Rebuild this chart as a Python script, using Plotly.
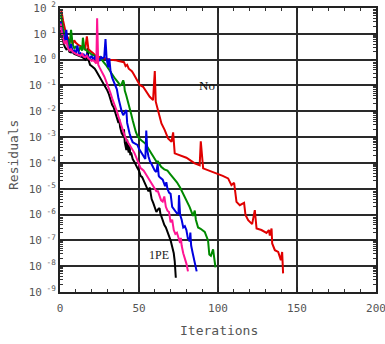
import numpy as np
import plotly.graph_objects as go

# ---- data (x = iteration, *_log = log10(residual)) ----
black_x = [0.5, 1, 2, 3, 4, 5, 6, 7, 8, 9, 10, 11, 12, 13, 14, 15, 16, 17, 17.5, 18, 19, 20, 21, 22, 23, 24,
           25, 26, 27, 28, 29, 30, 31, 32, 33, 34, 35, 36, 37, 37.5, 38, 39, 40, 40.5, 41, 42, 42.5, 43, 43.5,
           44, 44.5, 45, 46, 47, 48, 49, 50, 51, 52, 53, 54, 55, 56, 56.8, 57.5, 58, 59, 60, 61, 62, 63, 63.5,
           64, 65, 66, 67, 68, 69, 70, 71, 72, 72.6, 73, 73.3]
black_log = [1.15, 0.95, 0.7, 0.5, 0.4, 0.45, 0.3, 0.28, 0.3, 0.22, 0.2, 0.18, 0.15, 0.12, 0.1, 0.05, 0.0, 0.1,
             0.45, 0.0, -0.2, -0.25, -0.3, -0.35, -0.45, -0.55, -0.65, -0.75, -0.85, -0.95, -1.05, -1.2, -1.35,
             -1.55, -1.75, -1.85, -2.05, -2.25, -2.45, -2.3, -2.6, -2.85, -2.95, -2.7, -3.2, -3.5, -3.1, -3.45,
             -3.6, -3.3, -3.7, -3.6, -3.85, -3.95, -4.1, -4.2, -4.3, -4.5, -4.55, -4.7, -4.85, -4.95, -5.1, -4.95,
             -5.25, -5.4, -5.55, -5.75, -5.9, -5.8, -5.75, -5.95, -6.05, -6.2, -6.4, -6.5, -6.65, -6.85, -7.0,
             -7.25, -7.5, -7.8, -8.1, -8.45]

pink_x = [0.5, 1, 2, 3, 4, 5, 6, 7, 8, 9, 10, 11, 12, 13, 14, 15, 16, 17, 18, 19, 20, 21, 22, 23, 23.5, 24.2,
          25, 26, 27, 28, 29, 30, 31, 32, 33, 34, 35, 36, 37, 38, 39, 40, 41, 42, 43, 44, 45, 46, 47, 48, 49,
          50, 51, 52, 53, 54, 55, 56, 57, 58, 59, 60, 61, 62, 63, 64, 65, 66, 67, 68, 69, 70, 71, 72, 73, 74,
          75, 76, 76.5, 77, 78, 79, 80, 81]
pink_log = [1.4, 1.1, 0.8, 0.6, 0.75, 0.45, 0.35, 0.4, 0.3, 0.25, 0.22, 0.2, 0.18, 0.15, 0.22, 0.12, 0.1, 0.15,
            0.05, 0.0, -0.05, -0.02, -0.1, -0.15, 1.6, -0.2, -0.3, -0.4, -0.5, -0.65, -0.8, -0.95, -1.1, -1.3,
            -1.5, -1.65, -1.85, -2.0, -2.2, -2.4, -2.6, -2.8, -2.95, -3.1, -3.2, -3.25, -3.35, -3.45, -3.6,
            -3.75, -3.9, -4.1, -4.2, -4.25, -4.3, -4.4, -4.5, -4.6, -4.7, -4.75, -4.85, -5.0, -5.1, -5.1, -5.3,
            -5.45, -5.5, -5.3, -5.7, -5.85, -5.9, -6.3, -6.2, -6.6, -6.75, -6.7, -6.9, -7.1, -6.9, -7.2, -7.5,
            -7.7, -7.9, -8.2]

blue_x = [0.5, 1, 2, 3, 4, 5, 6, 7, 8, 9, 10, 11, 12, 13, 14, 15, 16, 17, 18, 19, 20, 21, 22, 23, 24, 25, 26,
          27, 28, 28.8, 29.5, 30.5, 31.2, 32, 33, 34, 35, 36, 37, 38, 39, 40, 42, 42.5, 43, 44, 45, 46, 47.5,
          49, 50, 51, 52, 53, 54, 54.6, 55.2, 56, 57, 58, 59, 60, 61, 61.8, 62.5, 63, 65, 66.5, 67.3, 68, 69,
          70, 71, 72, 73, 74, 75, 75.3, 76, 77, 78, 79, 80, 81, 81.5, 82, 82.5, 83, 84, 85, 86.5]
blue_log = [1.5, 1.2, 0.9, 0.7, 1.15, 0.5, 0.4, 0.6, 0.3, 0.35, 0.25, 0.55, 0.2, 0.25, 0.15, 0.2, 0.1, 0.2, 0.1,
            0.05, 0.15, 0.0, 0.1, 0.0, 0.05, -0.05, 0.1, 0.05, 0.1, 0.8, 0.05, -0.3, 0.05, -0.45, -0.7, -0.85,
            -1.0, -1.15, -1.5, -1.8, -2.0, -2.15, -1.95, -2.45, -2.6, -2.85, -3.05, -3.2, -3.25, -3.3, -3.45,
            -3.55, -3.65, -3.75, -3.85, -2.75, -3.5, -3.75, -3.95, -4.05, -4.2, -4.3, -4.35, -4.05, -4.5, -4.55,
            -4.65, -4.9, -4.75, -5.0, -5.15, -5.2, -5.7, -5.8, -5.85, -5.95, -5.95, -5.25, -6.0, -6.2, -6.5,
            -6.45, -6.6, -6.95, -6.9, -7.05, -6.7, -7.2, -7.5, -7.8, -8.2]

green_x = [0.5, 1, 2, 3, 4, 5, 6, 7, 8, 9, 10, 11, 12, 13, 14, 14.5, 15.5, 17, 18, 20, 22, 24, 25, 26, 27, 29,
           31, 33, 35, 37, 38, 39, 40, 40.5, 41, 42, 43, 44, 45, 46, 47, 48, 49, 50, 52, 54, 56, 57, 58, 59,
           60, 61, 62, 63, 64, 66, 68, 70, 72, 74, 76, 78, 80, 82, 84.2, 85.3, 86, 87.4, 89, 91.6, 93.7, 94.5,
           95.5, 96.9, 98.4]
green_log = [1.75, 1.5, 1.2, 0.9, 0.7, 0.8, 0.5, 1.15, 0.6, 0.45, 0.5, 0.4, 0.35, 0.5, 0.35, 0.85, 0.4, 0.35,
             0.3, 0.2, 0.15, 0.05, 0.0, 0.1, -0.05, -0.2, -0.4, -0.6, -0.75, -0.9, -1.0, -0.95, -0.8, -0.9,
             -1.2, -1.4, -1.6, -1.85, -2.1, -2.35, -2.6, -2.8, -2.95, -3.05, -3.15, -3.25, -3.45, -3.55, -3.65,
             -3.8, -3.9, -3.95, -3.95, -4.05, -4.15, -4.25, -4.3, -4.45, -4.6, -4.75, -4.95, -5.2, -5.44, -5.7,
             -6.05, -5.85, -6.2, -6.5, -6.55, -6.67, -7.0, -7.55, -7.6, -7.35, -8.05]

red_x = [0.5, 1, 2, 3, 4, 5, 6, 7, 8, 9, 10, 12, 14, 16, 17, 18, 19.5, 21, 23, 25, 27, 29, 31, 33, 35, 37, 39,
         40.5, 41.5, 42.5, 43.5, 44.5, 45.5, 46.5, 47.5, 48.5, 49.5, 50.5, 52.6, 54.7, 56.8, 58.9, 60.0, 60.6,
         62.1, 64.2, 66.3, 68.4, 70.6, 71.6, 72.6, 75.8, 80.0, 83.2, 85.3, 88.4, 89.1, 90.6, 94.7, 100.1, 103,
         106.4, 108.5, 110.2, 111.7, 113.8, 116.5, 117.4, 119.1, 121.6, 123.3, 124.4, 127.5, 130.7, 132.2,
         132.8, 133.9, 134.3, 136.0, 138.1, 139.8, 140.6, 141.2]
red_log = [1.95, 1.85, 1.5, 1.2, 0.95, 0.85, 0.7, 0.8, 0.6, 0.75, 0.65, 0.55, 0.5, 0.45, 0.9, 0.4, 0.32, 0.25,
           0.12, 0.1, 0.05, 0.05, 0.0, 0.0, -0.02, -0.05, -0.08, -0.1, -0.25, -0.2, -0.35, -0.4, -0.45, -0.55,
           -0.65, -0.75, -0.85, -0.98, -1.05, -1.24, -1.44, -1.57, -0.44, -1.63, -2.02, -2.47, -2.73, -3.05,
           -3.18, -2.82, -3.63, -3.70, -3.80, -3.93, -4.02, -4.09, -3.16, -4.21, -4.3, -4.43, -4.5, -4.6, -4.86,
           -4.77, -5.51, -5.64, -5.55, -6.02, -6.22, -6.37, -5.83, -6.54, -6.60, -6.71, -6.6, -6.81, -6.54,
           -7.12, -7.38, -7.45, -7.77, -7.45, -8.28]

x_ticks = [0, 50, 100, 150, 200]
y_exponents = [2, 1, 0, -1, -2, -3, -4, -5, -6, -7, -8, -9]
y_ticktext = ["10<sup> %s</sup>" % (str(e) if e >= 0 else "-" + str(-e)) for e in y_exponents]

series = [
    ("black", black_x, black_log, "#000000"),
    ("red", red_x, red_log, "#e00000"),
    ("green", green_x, green_log, "#008a00"),
    ("blue", blue_x, blue_log, "#0000e0"),
    ("pink", pink_x, pink_log, "#ff1493"),
]

fig = go.Figure()
for name, xs, ls, col in series:
    fig.add_trace(go.Scatter(x=xs, y=np.power(10.0, ls), mode="lines", name=name,
                             line=dict(color=col, width=2), showlegend=False))

mono = "DejaVu Sans Mono"
gray = "#555555"
gridc = "#2a2a2a"
ML, MR, MT, MB = 60, 9, 8, 52
W, H = 385, 344
plot_w = W - ML - MR
plot_h = H - MT - MB

fig.update_layout(
    width=W, height=H,
    margin=dict(l=ML, r=MR, t=MT, b=MB),
    paper_bgcolor="white", plot_bgcolor="white",
    showlegend=False,
    xaxis=dict(range=[0, 200], tickvals=x_ticks, showgrid=True, gridcolor=gridc, gridwidth=1.5,
               automargin=False, ticklabeloverflow="allow", ticklabelstandoff=5,
               zeroline=False, showline=True, linecolor="#222222", linewidth=2, mirror="allticks",
               ticks="inside", ticklen=5, tickcolor="#222222",
               minor=dict(dtick=10, ticks="inside", ticklen=3, tickcolor="#333333", showgrid=False),
               tickfont=dict(family=mono, size=11, color=gray)),
    yaxis=dict(type="log", range=[-9, 2], tickvals=[10.0 ** e for e in y_exponents], ticktext=y_ticktext,
               automargin=False, ticklabeloverflow="allow",
               showgrid=True, gridcolor=gridc, gridwidth=1.5, zeroline=False,
               showline=True, linecolor="#222222", linewidth=2, mirror="allticks",
               ticks="inside", ticklen=5, tickcolor="#222222",
               minor=dict(dtick="D1", ticks="inside", ticklen=3, tickcolor="#333333", showgrid=False),
               tickfont=dict(family=mono, size=11, color=gray)),
    annotations=[
        dict(x=93.3, y=-1.0, xref="x", yref="y", text="No", showarrow=False,
             font=dict(family="Liberation Serif", size=13, color="#111111")),
        dict(x=62.6, y=-7.55, xref="x", yref="y", text="1PE", showarrow=False,
             font=dict(family="Liberation Serif", size=12, color="#222222")),
        dict(x=(13 - ML) / plot_w, y=(H - MB - 155) / plot_h, xref="paper", yref="paper",
             xanchor="center", yanchor="middle", text="Residuals", showarrow=False,
             textangle=-90, font=dict(family=mono, size=13, color=gray)),
        dict(x=(219 - ML) / plot_w, y=(H - MB - 330) / plot_h, xref="paper", yref="paper",
             xanchor="center", yanchor="middle", text="Iterations", showarrow=False,
             font=dict(family=mono, size=13, color=gray)),
    ],
)

fig.write_html("out.html", config={"displayModeBar": False},
               post_script="document.body.style.margin='0';document.body.style.padding='0';")
